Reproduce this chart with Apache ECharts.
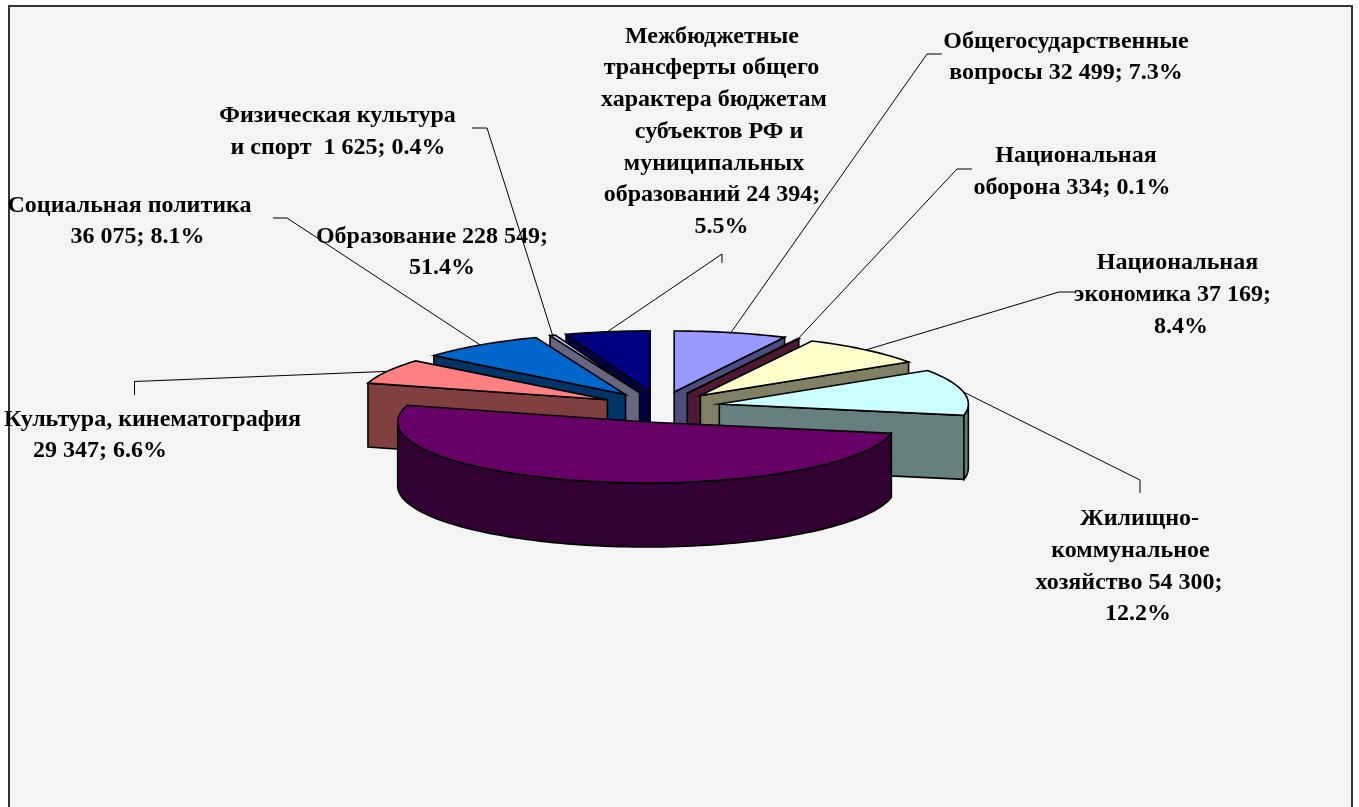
<!DOCTYPE html>
<html>
<head>
<meta charset="utf-8">
<title>Расходы бюджета</title>
<script src="https://cdn.jsdelivr.net/npm/echarts@6/dist/echarts.min.js"></script>
<style>
html, body { margin: 0; padding: 0; background: #fff; }
#chart { width: 1359px; height: 807px; }
</style>
</head>
<body>
<div id="chart"></div>
<script>
// data, clockwise from 12 o'clock
var categories = ['Общегосударственные', 'Национальная оборона', 'Национальная экономика', 'Жилищно-коммунальное хозяйство', 'Образование', 'Культура, кинематография', 'Социальная политика', 'Физическая культура и спорт', 'Межбюджетные трансферты'];
var values = [32499, 334, 37169, 54300, 228549, 29347, 36075, 1625, 24394];
var topColors = ['#9999FF', '#993366', '#FFFFCC', '#CCFFFF', '#660066', '#FF8080', '#0066CC', '#CCCCFF', '#000080'];
var wallColors = ['#4D4D80', '#4D1A33', '#808066', '#668080', '#330033', '#804040', '#003366', '#666680', '#000040'];
// {v} and {p} are filled in from values
var labelTexts = [
    'Общегосударственные\nвопросы {v}; {p}%',
    'Национальная\nоборона {v}; {p}%',
    'Национальная\nэкономика {v};\n{p}%',
    'Жилищно-\nкоммунальное\nхозяйство {v};\n{p}%',
    'Образование {v};\n{p}%',
    'Культура, кинематография\n{v}; {p}%',
    'Социальная политика\n{v}; {p}%',
    'Физическая культура\nи спорт  {v}; {p}%',
    'Межбюджетные\nтрансферты общего\nхарактера бюджетам\nсубъектов РФ и\nмуниципальных\nобразований {v};\n{p}%'
];

// layout of the picture
var labelLineX = [
    [1066, 1066],
    [1076, 1072],
    [1177.5, 1172.5, 1181],
    [1139.5, 1130.5, 1129, 1138],
    [432, 442],
    [152.5, 100],
    [129.5, 137.5],
    [337.5, 338],
    [712, 711.5, 714, 719, 714, 712, 721.5]
];
var labelStartY = [41.5, 156, 263, 519, 236.5, 419.5, 205.5, 116, 36.5];
var leaderElbows = [
    [[927, 54], [942, 54]],
    [[957, 169], [972, 169]],
    [[1059, 292], [1075, 292]],
    [[1140, 480], [1140, 493]],
    null,
    [[134.5, 381.5], [134.5, 395]],
    [[287, 218], [273, 218]],
    [[487, 128], [472, 128]],
    [[722, 254], [722, 263]]
];
var drawOrder = [8, 0, 7, 1, 6, 2, 5, 3, 4];
var CX = 660.5, CY = 407, RX = 249, RY = 61, EXPLODE_X = 60, EXPLODE_Y = 15.4, DEPTH = 64, LINE_H = 31.7;

function fmt(v) {
    return String(v).replace(/\B(?=(\d{3})+$)/g, ' ');
}

var total = values.reduce(function (a, b) { return a + b; }, 0);

function slicePoints(idx) {
    var before = 0;
    for (var i = 0; i < idx; i++) before += values[i];
    var a0 = before / total * Math.PI * 2;
    var a1 = (before + values[idx]) / total * Math.PI * 2;
    var m = (a0 + a1) / 2;
    var ox = CX + EXPLODE_X * Math.sin(m);
    var oy = CY - EXPLODE_Y * Math.cos(m);
    var rim = [];
    var steps = Math.max(2, Math.ceil((a1 - a0) / 0.03));
    for (var s = 0; s <= steps; s++) {
        var a = a0 + (a1 - a0) * s / steps;
        rim.push([ox + RX * Math.sin(a), oy - RY * Math.cos(a)]);
    }
    return {
        apex: [ox, oy],
        rim: rim,
        mid: [ox + RX * Math.sin(m), oy - RY * Math.cos(m)]
    };
}

function down(p) {
    return [p[0], p[1] + DEPTH];
}

function wall(pts, color) {
    var shape = pts.concat(pts.slice().reverse().map(down));
    return {
        type: 'polygon',
        shape: { points: shape },
        style: { fill: color, stroke: '#000', lineWidth: 1.6 }
    };
}

function renderSlice(params, api) {
    var idx = api.value(0);
    var sp = slicePoints(idx);
    var rim = sp.rim;
    var walls = [];
    // a wall shows only if its top edge runs right to left
    var run = [];
    for (var i = 0; i < rim.length - 1; i++) {
        if (rim[i + 1][0] < rim[i][0]) {
            if (!run.length) run.push(rim[i]);
            run.push(rim[i + 1]);
        } else if (run.length) {
            walls.push(run);
            run = [];
        }
    }
    if (run.length) walls.push(run);
    var last = rim[rim.length - 1];
    if (sp.apex[0] < last[0]) walls.unshift([last, sp.apex]);
    if (rim[0][0] < sp.apex[0]) walls.unshift([sp.apex, rim[0]]);

    var children = walls.map(function (w) { return wall(w, wallColors[idx]); });
    children.push({
        type: 'polygon',
        shape: { points: [sp.apex].concat(rim) },
        style: { fill: topColors[idx], stroke: '#000', lineWidth: 1.6 }
    });
    return { type: 'group', children: children };
}

function renderLeader(params, api) {
    var idx = api.value(0);
    var elbows = leaderElbows[idx];
    if (!elbows) return null;
    return {
        type: 'polyline',
        shape: { points: [slicePoints(idx).mid].concat(elbows) },
        style: { fill: 'none', stroke: '#000', lineWidth: 1 }
    };
}

// each line sits on its own centre, the original labels are not evenly centred
function renderLabel(params, api) {
    var idx = api.value(0);
    var lines = labelTexts[idx]
        .replace('{v}', fmt(values[idx]))
        .replace('{p}', (values[idx] / total * 100).toFixed(1))
        .split('\n');
    return {
        type: 'group',
        children: lines.map(function (line, i) {
            return {
                type: 'text',
                style: {
                    x: labelLineX[idx][i],
                    y: labelStartY[idx] + i * LINE_H,
                    text: line,
                    fill: '#000',
                    align: 'center',
                    verticalAlign: 'middle',
                    font: 'bold 24px "Liberation Serif"'
                }
            };
        })
    };
}

var sliceRows = drawOrder.map(function (i) { return [i, values[i], categories[i]]; });
var labelRows = values.map(function (v, i) { return [i, v, categories[i]]; });

var chart = echarts.init(document.getElementById('chart'), null, { renderer: 'canvas' });
chart.setOption({
    animation: false,
    backgroundColor: '#fff',
    graphic: [{
        type: 'rect',
        z: -10,
        shape: { x: 9, y: 6, width: 1343, height: 840 },
        style: { fill: '#F4F4F4', stroke: '#333', lineWidth: 2 }
    }],
    series: [
        { type: 'custom', coordinateSystem: 'none', renderItem: renderLeader, data: labelRows, z: 2, silent: true },
        { type: 'custom', coordinateSystem: 'none', renderItem: renderSlice, data: sliceRows, z: 3, silent: true },
        { type: 'custom', coordinateSystem: 'none', renderItem: renderLabel, data: labelRows, z: 4, silent: true }
    ]
});
</script>
</body>
</html>
